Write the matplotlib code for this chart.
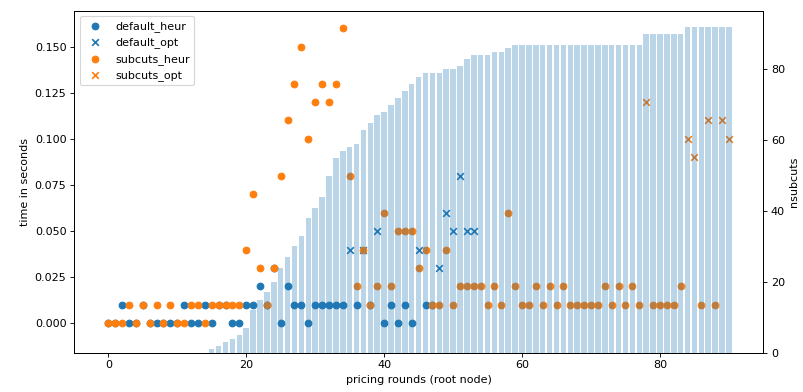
import numpy as np
import matplotlib
matplotlib.use('Agg')
import matplotlib.pyplot as plt

# time per pricing round (seconds), default run
default_time = [0, 0, .01, 0, 0, .01, 0, 0, 0, 0,
                0, .01, 0, 0, .01, 0, .01, .01, 0, 0,
                .01, .01, .02, .01, .03, 0, .02, .01, .01, 0,
                .01, .01, .01, .01, .01, .04, .01, .04, .01, .05,
                0, .01, 0, .01, 0, .04, .01, .01, .03, .06,
                .05, .08, .05, .05]
default_opt_rounds = [35, 37, 39, 45, 48, 49, 50, 51, 52, 53]

# time per pricing round (seconds), subcuts run
subcuts_time = [0, 0, 0, .01, 0, .01, 0, .01, 0, .01,
                0, 0, .01, .01, 0, .01, .01, .01, .01, .01,
                .04, .07, .03, .01, .03, .08, .11, .13, .15, .10,
                .12, .13, .12, .13, .16, .08, .02, .04, .01, .02,
                .06, .02, .05, .05, .05, .03, .04, .01, .01, .04,
                .01, .02, .02, .02, .02, .01, .02, .01, .06, .02,
                .01, .01, .02, .01, .02, .01, .02, .01, .01, .01,
                .01, .01, .02, .01, .02, .01, .02, .01, .12, .01,
                .01, .01, .01, .02, .10, .09, .01, .11, .01, .11,
                .10]
subcuts_opt_rounds = [78, 84, 85, 87, 89, 90]

# number of subset-row cuts after each round
nsubcuts = [0] * 15 + [1, 2, 3, 4, 5, 7, 12, 15, 17, 20,
                       24, 27, 30, 33, 38, 41, 44, 50, 55, 57,
                       58, 59, 63, 65, 67, 68, 70, 72, 74, 76,
                       78, 79, 79, 79, 80, 80, 81, 83, 84, 84,
                       84, 85, 85, 86] + [87] * 19 + [90] * 6 + [92] * 7

d_rounds = np.arange(len(default_time))
d_time = np.array(default_time)
d_opt = np.isin(d_rounds, default_opt_rounds)

s_rounds = np.arange(len(subcuts_time))
s_time = np.array(subcuts_time)
s_opt = np.isin(s_rounds, subcuts_opt_rounds)

fig, ax = plt.subplots(figsize=(803 / 80, 392 / 80), dpi=80)
fig.subplots_adjust(left=0.0924, right=0.9502, bottom=0.1003, top=0.9727)

ax.scatter(d_rounds[~d_opt], d_time[~d_opt], color='C0', marker='o', label='default_heur')
ax.scatter(d_rounds[d_opt], d_time[d_opt], color='C0', marker='x', label='default_opt')
ax.scatter(s_rounds[~s_opt], s_time[~s_opt], color='C1', marker='o', label='subcuts_heur')
ax.scatter(s_rounds[s_opt], s_time[s_opt], color='C1', marker='x', label='subcuts_opt')
ax.set_ylim(-0.0159, 0.1695)
ax.set_xlabel('pricing rounds (root node)')
ax.set_ylabel('time in seconds')
ax.legend(loc='upper left')

ax2 = ax.twinx()
ax2.bar(np.arange(len(nsubcuts)), nsubcuts, color='C0', alpha=0.3)
ax2.set_ylabel('nsubcuts')

fig.savefig('out.png', dpi=80)
